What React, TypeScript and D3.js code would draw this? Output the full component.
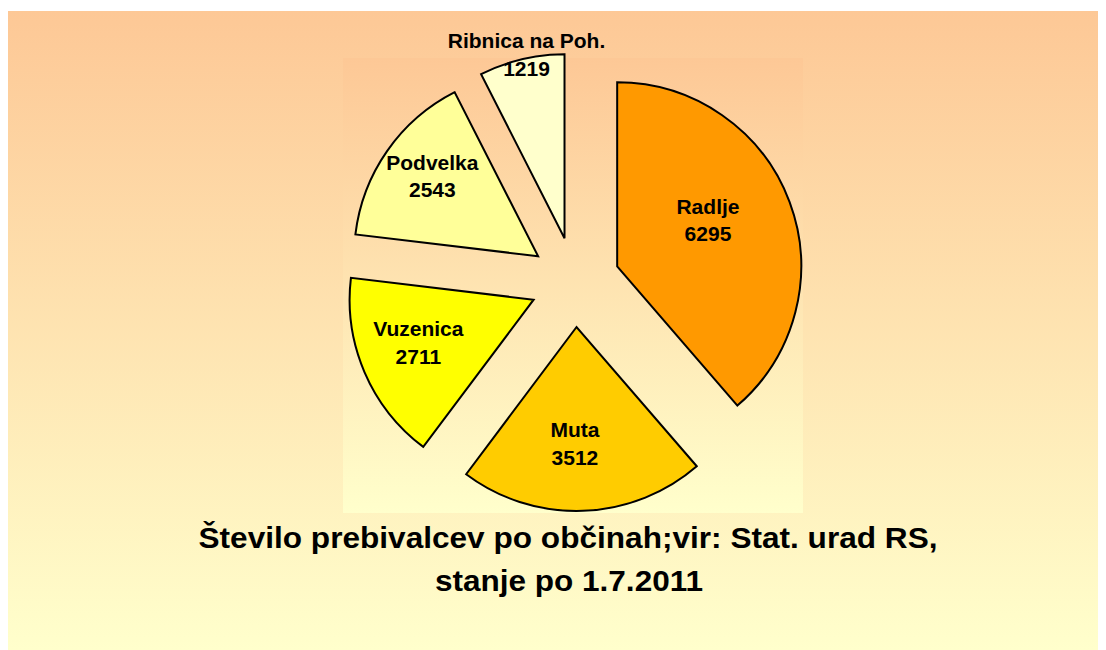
import * as d3 from 'd3'

// data
const municipalities = ['Radlje', 'Muta', 'Vuzenica', 'Podvelka', 'Ribnica na Poh.']
const population = [6295, 3512, 2711, 2543, 1219]
const sliceColors = ['#FF9900', '#FFCC00', '#FFFF00', '#FFFF99', '#FFFFCC']
const titleLines = ['Število prebivalcev po občinah;vir: Stat. urad RS,', 'stanje po 1.7.2011']

// layout (page coordinates, svg viewBox starts at the body margin)
const W = 1098
const H = 642
const CX = 575
const CY = 282
const R = 184
const EXPLODE = 45
// label distance from the pie centre, as a share of the radius, plus a small angle nudge (deg)
const LABEL_R = [0.8, 0.87, 0.91, 0.97, 1.27]
const LABEL_NUDGE = [-5, 2, 2.5, 2, 1.5]
const FONT = "'Liberation Sans', Arial, sans-serif"

type Slice = d3.PieArcDatum<number>

export default function App() {
  const pie = d3
    .pie<number>()
    .sort(null)
    .value((d) => d)
  const slices: Slice[] = pie(population)
  const arc = d3.arc<Slice>().innerRadius(0).outerRadius(R)

  const mid = (s: Slice) => (s.startAngle + s.endAngle) / 2
  const polar = (a: number, dist: number): [number, number] => [Math.sin(a) * dist, -Math.cos(a) * dist]

  return (
    <svg width={W} height={H} viewBox={`8 8 ${W} ${H}`} style={{ display: 'block' }}>
      <defs>
        <linearGradient id="bgOuter" x1="0" y1="0" x2="0" y2="1">
          <stop offset="0%" stopColor="#FDC896" />
          <stop offset="100%" stopColor="#FFFFCC" />
        </linearGradient>
        <linearGradient id="bgPlot" x1="0" y1="0" x2="0" y2="1">
          <stop offset="0%" stopColor="#FDC896" />
          <stop offset="100%" stopColor="#FFFFCC" />
        </linearGradient>
      </defs>
      <rect x={8} y={11} width={1098} height={639} fill="url(#bgOuter)" />
      <rect x={343} y={58} width={460} height={455} fill="url(#bgPlot)" />

      <g transform={`translate(${CX},${CY})`}>
        {slices.map((s, i) => {
          const [dx, dy] = polar(mid(s), EXPLODE)
          return (
            <path
              key={municipalities[i]}
              d={arc(s) ?? ''}
              transform={`translate(${dx},${dy})`}
              fill={sliceColors[i]}
              stroke="#000"
              strokeWidth={2}
              strokeLinejoin="miter"
            />
          )
        })}
        {slices.map((s, i) => {
          const a = mid(s) + (LABEL_NUDGE[i] * Math.PI) / 180
          const [lx, ly] = polar(a, R * LABEL_R[i])
          return (
            <text
              key={'l' + i}
              x={lx}
              y={ly - 5}
              textAnchor="middle"
              fontFamily={FONT}
              fontWeight="bold"
              fontSize={21}
              fill="#000"
            >
              <tspan x={lx} dy={0}>
                {municipalities[i]}
              </tspan>
              <tspan x={lx} dy={27.5}>
                {population[i]}
              </tspan>
            </text>
          )
        })}
      </g>

      <g fontFamily={FONT} fontWeight="bold" fontSize={29} fill="#000" textAnchor="middle">
        <text x={568} y={548} textLength={739} lengthAdjust="spacingAndGlyphs">
          {titleLines[0]}
        </text>
        <text x={569} y={591} textLength={268} lengthAdjust="spacingAndGlyphs">
          {titleLines[1]}
        </text>
      </g>
    </svg>
  )
}
